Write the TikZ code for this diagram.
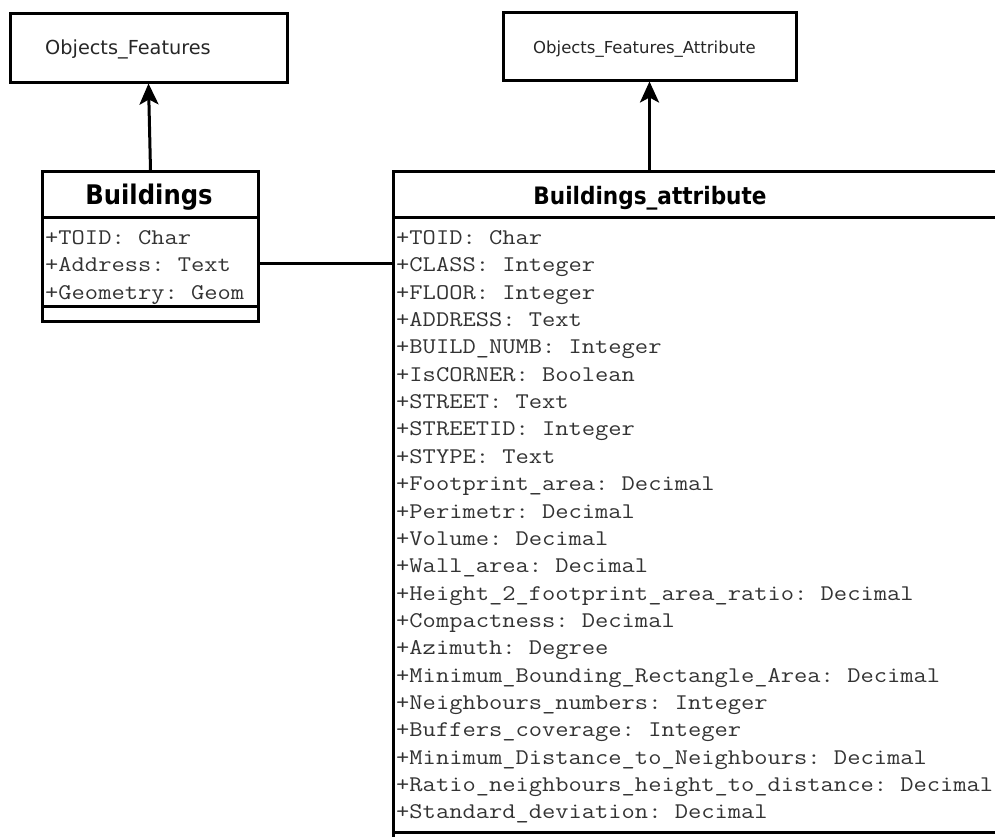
\documentclass[tikz,border=0pt]{standalone}
\usepackage{fontspec}
\setmainfont{DejaVu Sans}
\setmonofont{Latin Modern Mono}[FakeStretch=1.15]
\newfontfamily\titlefont{DejaVu Sans}[FakeStretch=0.9]
\usetikzlibrary{arrows.meta,positioning}

\begin{document}
\begin{tikzpicture}[x=1pt, y=-1pt, >={Stealth[length=21pt,width=19pt,inset=5pt]},
  box/.style={draw, line width=3pt, inner sep=0pt},
  sep/.style={line width=3pt},
  clsname/.style={font=\titlefont\bfseries\fontsize{#1}{#1}\selectfont, anchor=base, inner sep=0pt},
  attr/.style={font=\ttfamily\fontsize{22.4}{22}\selectfont, anchor=base west, inner sep=0pt, text=black!80},
  pkg/.style={font=\fontsize{#1}{#1}\selectfont, anchor=base west, inner sep=0pt, text=black!85}]
  \useasboundingbox (0,0) rectangle (995,836);
  \clip (0,0) rectangle (995,836);

  % parent boxes
  \node[box, minimum width=277pt, minimum height=69pt] (objf) at (148.5,47.5) {};
  \node[pkg=19.3] (objftxt) at (45,54) {Objects\_Features};
  \node[box, minimum width=293pt, minimum height=68pt] (ofa) at (649.5,46) {};
  \node[pkg=16.5] (ofatxt) at (533,53) {Objects\_Features\_Attribute};

  % Buildings class
  \node[box, minimum width=216pt, minimum height=150pt, anchor=north west] (bld) at (41,170) {};
  \draw[sep] (41,217) -- (257,217);
  \draw[sep] (41,306.5) -- (257,306.5);
  \node[clsname=27] (bldname) at (149,204) {Buildings};
  \foreach \txt [count=\i from 0] in {{+TOID: Char}, {+Address: Text}, {+Geometry: Geom}}
    \node[attr] (bld-\i) at (45,244.5+27.35*\i) {\txt};

  % Buildings_attribute class
  \node[box, minimum width=640pt, minimum height=700pt, anchor=north west] (batt) at (392,170) {};
  \draw[sep] (392,217) -- (1032,217);
  \draw[sep] (392,832) -- (1032,832);
  \node[clsname=24] (battname) at (650,204) {Buildings\_attribute};
  \foreach \txt [count=\i from 0] in {
      {+TOID: Char}, {+CLASS: Integer}, {+FLOOR: Integer}, {+ADDRESS: Text},
      {+BUILD\_NUMB: Integer}, {+IsCORNER: Boolean}, {+STREET: Text},
      {+STREETID: Integer}, {+STYPE: Text}, {+Footprint\_area: Decimal},
      {+Perimetr: Decimal}, {+Volume: Decimal}, {+Wall\_area: Decimal},
      {+Height\_2\_footprint\_area\_ratio: Decimal}, {+Compactness: Decimal},
      {+Azimuth: Degree}, {+Minimum\_Bounding\_Rectangle\_Area: Decimal},
      {+Neighbours\_numbers: Integer}, {+Buffers\_coverage: Integer},
      {+Minimum\_Distance\_to\_Neighbours: Decimal},
      {+Ratio\_neighbours\_height\_to\_distance: Decimal},
      {+Standard\_deviation: Decimal}}
    \node[attr] (batt-\i) at (396,244.5+27.35*\i) {\txt};

  % connectors
  \coordinate (lnk) at (0,263.5);
  \draw[->, line width=3pt] (bld.north) -- (objf.south);
  \draw[->, line width=3pt] (batt.north -| ofa.south) -- (ofa.south);
  \draw[line width=3pt] (bld.east |- lnk) -- (batt.west |- lnk);
\end{tikzpicture}
\end{document}
